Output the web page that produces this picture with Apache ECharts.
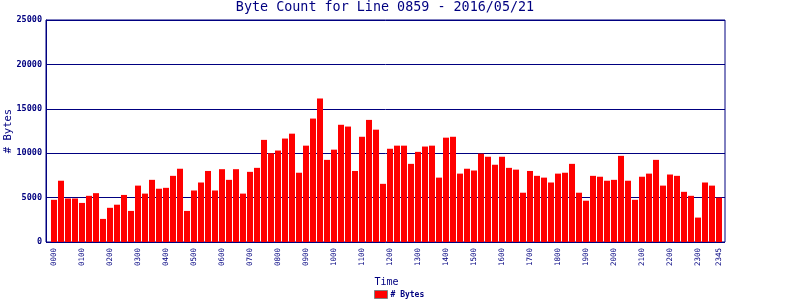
<!DOCTYPE html>
<html><head><meta charset="utf-8">
<script src="https://cdn.jsdelivr.net/npm/echarts@6/dist/echarts.min.js"></script>
<style>html,body{margin:0;padding:0;background:#fff}#c{width:800px;height:300px}</style>
</head><body><div id="c"></div>
<script>
var titleText = 'Byte Count for Line 0859 - 2016/05/21';
var seriesName = '# Bytes';
var yAxisName = '# Bytes';
var xAxisName = 'Time';
var yTicks = [0, 5000, 10000, 15000, 20000, 25000];
var times = [];
for (var h = 0; h < 24; h++) { for (var m = 0; m < 60; m += 15) { times.push((h < 10 ? '0' : '') + h + (m < 10 ? '0' : '') + m); } }
var bytes = [
 4750, 6900, 4900, 4900, 4400, 5200, 5500, 2600,
 3850, 4200, 5300, 3500, 6350, 5450, 7000, 6000,
 6100, 7450, 8250, 3500, 5800, 6700, 8000, 5800,
 8200, 7000, 8200, 5450, 7900, 8350, 11500, 10000,
 10300, 11650, 12200, 7800, 10850, 13900, 16150, 9250,
 10400, 13200, 13000, 8000, 11850, 13750, 12650, 6550,
 10500, 10850, 10850, 8800, 10150, 10750, 10850, 7250,
 11750, 11850, 7700, 8250, 8050, 9950, 9600, 8700,
 9600, 8350, 8150, 5550, 8000, 7450, 7250, 6700,
 7700, 7800, 8800, 5550, 4650, 7450, 7350, 6900,
 7000, 9700, 6900, 4750, 7350, 7700, 9250, 6350,
 7600, 7450, 5650, 5200, 2750, 6700, 6350, 5000
];
var navy = '#000080';
var mono = 'DejaVu Sans Mono';
var chart = echarts.init(document.getElementById('c'), null, {renderer: 'canvas'});
chart.setOption({
  animation: false,
  backgroundColor: '#ffffff',
  graphic: [{
    type: 'text', x: 385, y: 8,
    style: {text: titleText, fill: navy, font: '13.4px "DejaVu Sans Mono"', textAlign: 'center', textVerticalAlign: 'middle'}
  }, {
    type: 'text', x: 8, y: 131, rotation: Math.PI / 2,
    style: {text: yAxisName, fill: navy, font: '10.5px "DejaVu Sans Mono"', textAlign: 'center', textVerticalAlign: 'middle'}
  }],
  legend: {
    left: 374, top: 290, itemWidth: 13, itemHeight: 8, padding: 0,
    icon: 'rect',
    data: [seriesName],
    itemStyle: {borderColor: '#808080', borderWidth: 1},
    textStyle: {color: navy, fontFamily: mono, fontSize: 8, fontWeight: 'bold', padding: [0, 0, 0, -2]}
  },
  grid: [
    {left: 46, top: 20, width: 679, height: 222, show: true, borderColor: navy, borderWidth: 1, containLabel: false, outerBoundsMode: 'none'},
    {left: 50.5, top: 20, width: 672, height: 222, containLabel: false, outerBoundsMode: 'none'}
  ],
  xAxis: [
    {type: 'category', gridIndex: 0, data: times, show: false},
    {type: 'category', gridIndex: 1, data: times, boundaryGap: true,
     name: xAxisName, nameLocation: 'middle', nameGap: 35, nameMoveOverlap: false,
     nameTextStyle: {color: navy, fontFamily: mono, fontSize: 10},
     axisLine: {show: false}, axisTick: {show: false}, splitLine: {show: false},
     axisLabel: {rotate: 90, margin: 6, color: navy, fontFamily: mono, fontSize: 7.5,
       interval: function (i) { return i % 4 === 0 || i === times.length - 1; }}}
  ],
  yAxis: [
    {type: 'value', gridIndex: 0, min: yTicks[0], max: yTicks[yTicks.length - 1], interval: yTicks[1] - yTicks[0],
     axisLine: {show: true, lineStyle: {color: navy, width: 1}},
     axisTick: {show: false},
     splitLine: {show: true, lineStyle: {color: navy, width: 1}},
     axisLabel: {color: navy, fontFamily: mono, fontSize: 8.5, fontWeight: 'bold', margin: 4,
       formatter: function (v) { return String(v); }}},
    {type: 'value', gridIndex: 1, min: yTicks[0], max: yTicks[yTicks.length - 1], show: false}
  ],
  series: [{
    name: seriesName, type: 'bar', xAxisIndex: 1, yAxisIndex: 1,
    data: bytes, barWidth: 6,
    itemStyle: {color: '#ff0000'}
  }]
});
</script></body></html>
